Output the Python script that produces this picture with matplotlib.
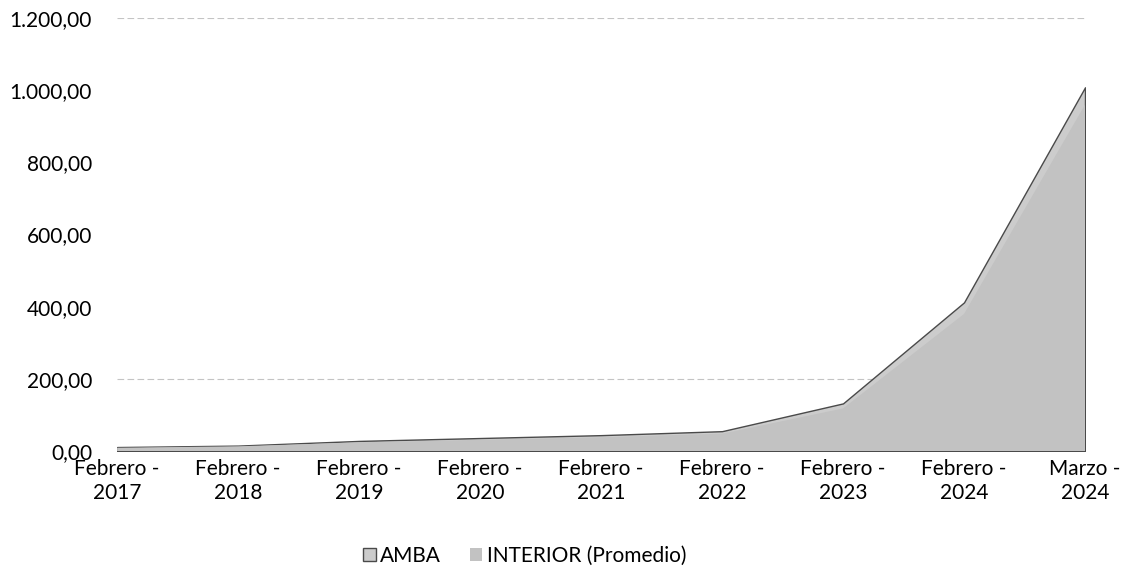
import matplotlib.pyplot as plt
from matplotlib.ticker import FuncFormatter

categorias = ['Febrero -\n2017', 'Febrero -\n2018', 'Febrero -\n2019', 'Febrero -\n2020',
              'Febrero -\n2021', 'Febrero -\n2022', 'Febrero -\n2023', 'Febrero -\n2024',
              'Marzo -\n2024']
amba = [11, 15, 28, 36, 44, 55, 132, 412, 1008]
interior = [9, 13, 24, 31, 38, 48, 118, 380, 960]

plt.rcParams['font.family'] = ['Lato', 'DejaVu Sans']

fig = plt.figure(figsize=(11.26, 5.72), dpi=100)
ax = fig.add_axes([0.104, 0.2115, 0.8596, 0.757])

x = list(range(len(categorias)))
ax.fill_between(x, amba, color='#cccccc', edgecolor='#4a4a4a', linewidth=1.0, label='AMBA', zorder=2)
ax.fill_between(x, interior, color='#c2c2c2', edgecolor='none', linewidth=0, label='INTERIOR (Promedio)', zorder=3)

for v in [200, 1200]:
    ax.axhline(v, color='#c4c4c4', linewidth=0.8, linestyle=(0, (6, 3)), zorder=1)

ax.set_xlim(0, len(categorias) - 1)
ax.set_ylim(0, 1200)
ax.set_yticks(range(0, 1201, 200))
ax.yaxis.set_major_formatter(FuncFormatter(
    lambda v, p: f'{v:,.2f}'.replace(',', 'X').replace('.', ',').replace('X', '.')))
ax.set_xticks(x)
ax.set_xticklabels(categorias, fontsize=15, linespacing=1.2)
ax.tick_params(axis='y', labelsize=15, length=0, pad=18)
ax.tick_params(axis='x', length=0, pad=6)
for s in ax.spines.values():
    s.set_visible(False)

fig.legend(loc='lower center', bbox_to_anchor=(0.466, -0.022), ncol=2, frameon=False,
           fontsize=15, handlelength=0.6, handleheight=0.6, handletextpad=0.2, columnspacing=1.4)

plt.savefig('out.png')
